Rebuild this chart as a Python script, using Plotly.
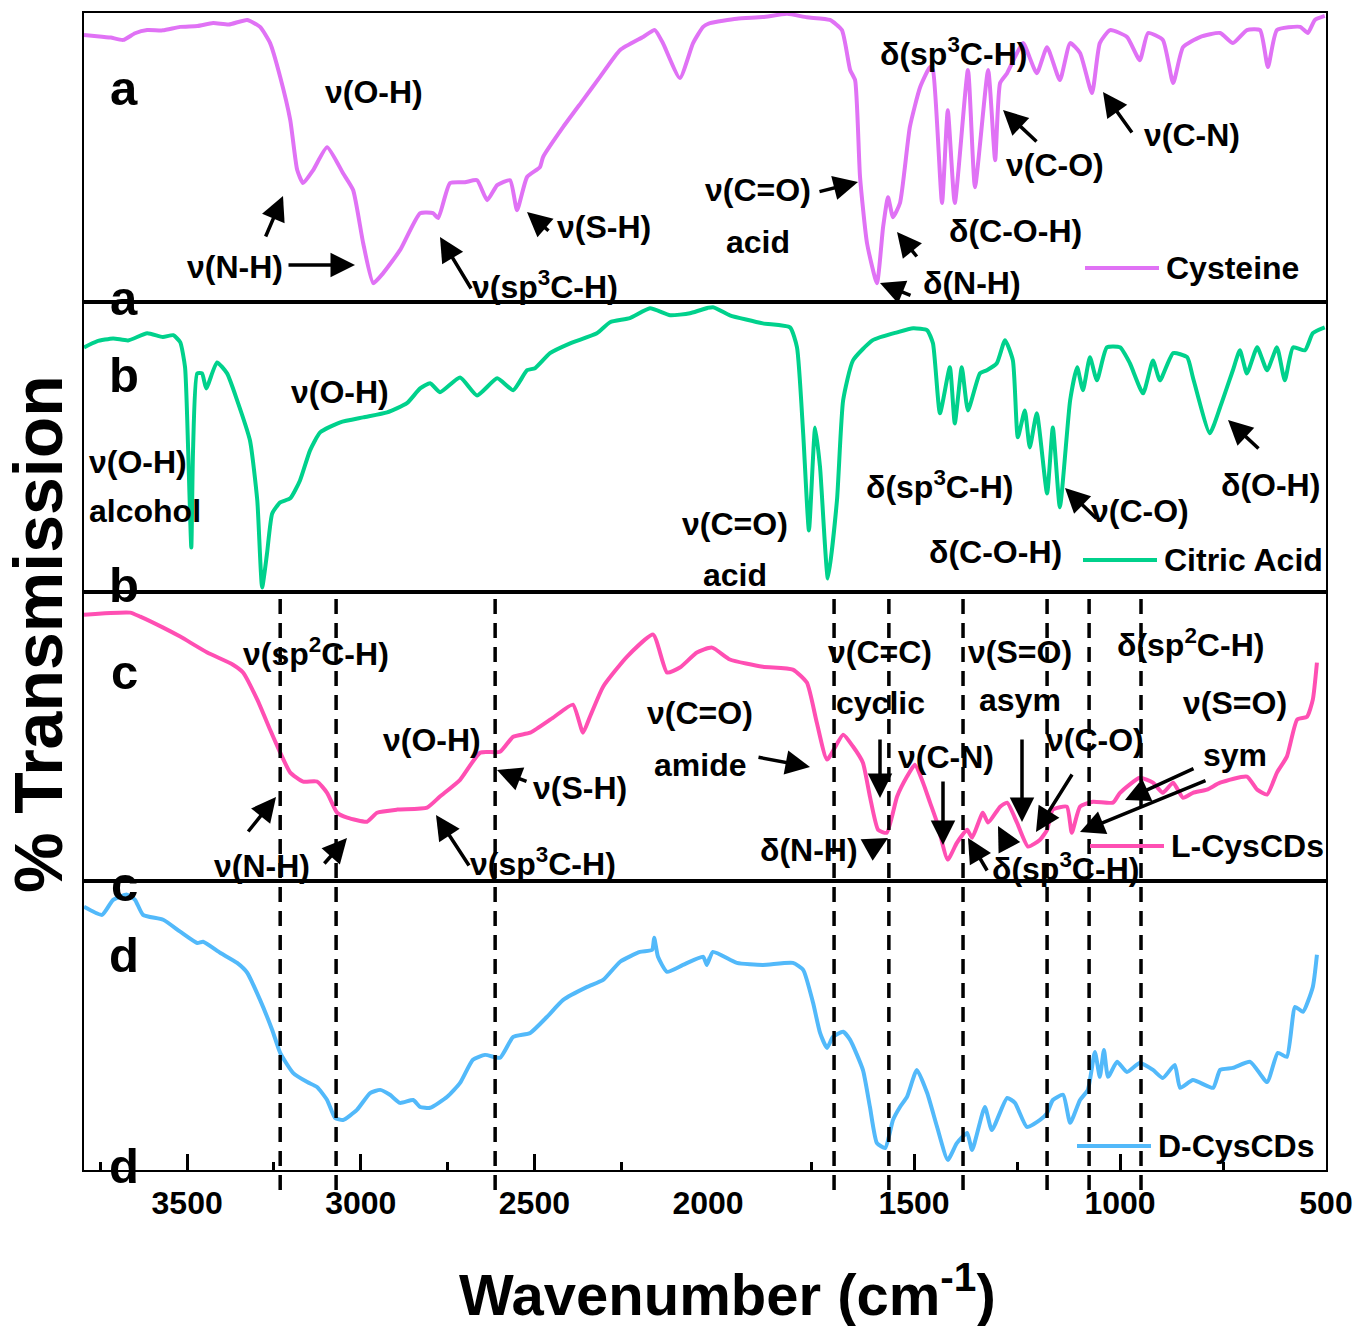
import plotly.graph_objects as go
from plotly.subplots import make_subplots

# ---------------- data (wavenumber in cm-1, relative transmission 0-100 within each panel) -------------
cys_wn = [3797,3760,3720,3684,3650,3615,3570,3520,3470,3425,3380,3327,3290,3261,3232,3203,3183,3166,3137,3097,
          3051,3022,2993,2964,2936,2887,2829,2792,2777,2743,2700,2665,2636,2607,2570,2550,2521,2484,2475,2417,
          2360,2311,2253,2187,2153,2130,2081,2043,2014,1995,1930,1867,1808,1760,1704,1675,1655,1643,1631,1614,
          1590,1575,1563,1551,1534,1510,1485,1461,1454,1432,1418,1401,1369,1352,1320,1303,1291,1274,1250,1235,
          1202,1177,1146,1121,1097,1068,1049,1024,983,952,932,896,871,847,806,757,726,692,660,641,
          619,563,544,527,503]
cys_T = [92.4,92.0,91.5,90.7,93.0,94.1,94.0,95.2,95.5,96.5,96.0,97.6,95.2,89.6,77.9,63.0,45.7,41.2,45.7,53.6,
         44.6,38.8,20.4,6.6,10.0,18.0,30.8,30.8,29.1,41.2,41.5,42.2,35.3,40.5,42.2,31.8,43.3,46.7,50.2,60.6,
         69.9,77.9,87.2,91.7,94.1,89.6,77.5,89.6,95.2,96.5,98.0,98.6,99.7,98.5,97.6,94.1,80.3,76.8,43.3,20.4,
         6.6,26.0,36.3,29.4,34.3,60.6,74.4,81.3,80.3,34.3,66.4,34.3,80.3,39.8,80.3,49.1,75.8,79.2,86.2,89.6,
         79.2,88.2,76.8,89.6,86.2,72.3,89.6,94.1,91.7,83.7,93.1,90.7,75.8,88.2,91.7,93.1,89.6,94.1,94.1,81.3,
         94.1,95.2,93.1,97.6,99.0]

cit_wn = [3797,3760,3713,3670,3615,3570,3540,3520,3506,3497,3488,3483,3471,3457,3445,3414,3385,3356,3319,3298,
          3284,3270,3255,3232,3203,3175,3146,3117,3059,2993,2924,2867,2829,2800,2772,2714,2665,2607,2561,2521,
          2498,2455,2397,2320,2282,2225,2167,2109,2052,1988,1947,1867,1801,1784,1769,1755,1740,1728,1709,1687,
          1672,1648,1600,1541,1502,1468,1454,1437,1413,1401,1384,1369,1340,1323,1299,1279,1260,1248,1231,1219,
          1202,1177,1163,1146,1121,1104,1090,1073,1056,1032,1000,976,944,920,903,871,837,823,782,757,
          726,709,692,667,643,619,600,580,551,532,503]
cit_T = [84.4,86.5,87.5,86.8,89.3,88.0,88.6,86.2,77.5,48.8,15.2,48.8,75.4,75.4,70.2,79.2,75.4,66.1,52.2,31.5,
         1.4,13.1,27.0,30.8,32.2,38.4,48.8,55.0,58.5,60.2,61.9,65.1,70.2,72.0,68.9,74.0,67.8,73.7,69.6,76.5,
         77.2,82.4,85.8,89.3,93.1,94.5,97.9,95.5,96.2,98.3,95.5,92.7,91.3,84.4,54.7,21.1,56.7,42.9,4.5,31.5,
         66.1,79.9,86.9,89.6,91.0,90.3,85.8,61.6,77.5,58.1,77.5,62.6,75.4,76.5,78.9,86.9,79.9,53.3,62.6,49.8,
         61.6,33.9,56.7,29.1,66.1,77.5,69.6,81.0,73.0,84.4,84.4,78.9,68.5,79.9,73.0,82.4,81.0,74.0,54.7,63.7,
         76.5,83.4,75.4,84.4,76.5,84.4,73.0,84.4,83.4,89.3,91.3]

lcys_wn = [3797,3664,3635,3569,3520,3442,3368,3339,3298,3261,3232,3203,3166,3126,3097,3068,3039,2982,2953,2895,
           2809,2772,2714,2656,2599,2561,2512,2446,2389,2360,2340,2302,2233,2158,2118,2081,2032,1990,1947,1867,
           1794,1760,1736,1711,1672,1648,1624,1607,1587,1566,1541,1517,1498,1478,1461,1444,1418,1396,1371,1359,
           1333,1320,1291,1274,1250,1223,1194,1177,1163,1129,1117,1097,1066,1017,1000,952,920,896,871,847,
           823,789,757,692,667,643,619,595,570,546,532,522]
lcys_T = [92.0,92.7,91.3,87.5,84.4,78.9,74.7,72.0,62.6,52.2,44.3,37.4,34.3,34.3,30.4,23.5,21.8,20.4,23.5,24.6,
          25.3,29.1,34.9,44.3,44.6,49.8,51.2,56.4,60.9,51.2,56.7,67.1,77.5,85.1,72.0,73.7,78.9,80.6,76.5,74.0,
          73.0,68.5,54.7,41.9,50.5,46.4,40.8,29.1,17.6,16.6,29.1,36.0,40.1,33.9,27.0,20.1,7.3,13.1,17.6,14.9,
          23.5,20.1,25.6,27.0,20.1,11.8,14.2,17.6,24.6,25.6,16.6,25.6,27.3,27.0,30.4,35.6,33.9,30.4,33.9,28.7,
          30.4,31.5,33.9,36.0,31.5,29.8,37.4,42.9,55.7,56.7,62.6,75.4]

dcys_wn = [3797,3745,3713,3673,3650,3627,3569,3520,3471,3454,3405,3356,3327,3290,3255,3232,3195,3154,3126,3097,
           3074,3051,3011,2973,2944,2916,2887,2849,2829,2800,2751,2714,2677,2642,2599,2561,2512,2464,2417,2348,
           2302,2253,2196,2161,2155,2144,2118,2072,2014,2003,1988,1930,1867,1794,1769,1745,1728,1711,1697,1672,
           1655,1624,1607,1590,1570,1551,1534,1517,1493,1468,1444,1418,1396,1371,1359,1328,1311,1274,1255,1226,
           1194,1177,1163,1138,1121,1097,1078,1061,1049,1039,1029,1007,983,952,920,896,867,854,823,774,
           757,726,684,643,617,595,575,556,532,522]
dcys_T = [91.0,88.2,93.4,95.2,93.4,88.2,86.5,82.4,78.5,78.9,75.1,71.6,68.2,58.8,48.4,40.5,33.6,30.4,28.7,24.2,
          18.0,17.3,20.8,26.6,27.7,26.0,23.2,24.2,21.8,21.5,25.3,30.1,38.1,39.8,38.8,46.0,47.4,52.9,58.8,63.3,
          65.7,72.0,75.4,76.1,80.3,73.7,68.5,70.9,73.7,70.9,75.4,71.6,70.9,71.6,69.2,57.8,47.4,42.2,46.0,47.8,
          45.0,34.6,21.8,9.3,7.6,17.3,21.8,25.3,34.6,26.6,14.9,3.5,9.3,12.8,6.9,21.8,13.8,24.9,23.2,14.9,
          17.3,19.7,24.2,26.0,16.3,24.2,27.7,40.8,32.2,41.5,32.2,37.4,33.9,37.0,34.6,31.8,36.3,28.4,31.1,28.4,
          34.6,35.3,37.4,30.4,40.5,39.1,56.4,54.7,63.3,74.4]

series_names = ["Cysteine", "Citric Acid", "L-CysCDs", "D-CysCDs"]
series_colors = ["#E072F5", "#00D18C", "#FF4FB3", "#52B9FA"]
series_x = [cys_wn, cit_wn, lcys_wn, dcys_wn]
series_y = [cys_T, cit_T, lcys_T, dcys_T]
panel_letters = ["a", "b", "c", "d"]

dashed_left = [3232, 3071, 2613]
dashed_right = [1694, 1561, 1381, 1177, 1075, 949]

left_ticks = [3500, 3000, 2500]
right_ticks = [2000, 1500, 1000, 500]
left_minor = [3750, 3250, 2750, 2250]
right_minor = [1750, 1250, 750]

# ---------------- figure -------------
W, H = 1357, 1326
ML, MR, MT, MB = 84, 31, 13, 156
FONT = "Liberation Sans, Arial, sans-serif"
FS = 32
FRAME = 2

fig = make_subplots(rows=4, cols=2, horizontal_spacing=0, vertical_spacing=0,
                    column_widths=[624, 618])

for r in range(4):
    for c in range(2):
        fig.add_trace(go.Scatter(x=series_x[r], y=series_y[r], mode="lines",
                                 line=dict(color=series_colors[r], width=4, shape="spline", smoothing=0.5),
                                 name=series_names[r], showlegend=False, hoverinfo="skip"),
                      row=r + 1, col=c + 1)

fig.update_layout(width=W, height=H, margin=dict(l=ML, r=MR, t=MT, b=MB, autoexpand=False),
                  plot_bgcolor="white", paper_bgcolor="white", showlegend=False)

for r in range(4):
    for c in range(2):
        idx = r * 2 + c + 1
        xa = "xaxis" if idx == 1 else f"xaxis{idx}"
        ya = "yaxis" if idx == 1 else f"yaxis{idx}"
        bottom = (r == 3)
        xcfg = dict(range=[3797, 2000] if c == 0 else [2000, 500], automargin=False,
                    showline=True, mirror=True, linecolor="black", linewidth=FRAME,
                    showgrid=False, zeroline=False)
        if bottom:
            tv = left_ticks if c == 0 else right_ticks
            xcfg.update(tickmode="array", tickvals=tv,
                        ticktext=[f"<b>{v}</b>" for v in tv],
                        ticks="inside", ticklen=16, tickwidth=2.5, tickcolor="black",
                        tickfont=dict(family=FONT, size=FS, color="black"),
                        ticklabelstandoff=4,
                        minor=dict(tickmode="array", tickvals=left_minor if c == 0 else right_minor,
                                   ticks="inside", ticklen=8, tickwidth=2.5, tickcolor="black"))
        else:
            xcfg.update(showticklabels=False, ticks="")
        fig.layout[xa].update(xcfg)
        ycfg = dict(range=[0, 100], showgrid=False, zeroline=False, showticklabels=False, automargin=False,
                    ticks="", showline=True, linecolor="black", linewidth=FRAME)
        if c == 1:
            ycfg.update(side="right")
        fig.layout[ya].update(ycfg)

# ---------------- helpers for layout decorations -------------
PW, PH = W - ML - MR, H - MT - MB


def P(px, py):
    return (px - ML) / PW, (H - MB - py) / PH


def txt(s, px, py, size=FS, xanchor="center", angle=0):
    x, y = P(px, py)
    fig.add_annotation(x=x, y=y, xref="paper", yref="paper", text=f"<b>{s}</b>",
                       showarrow=False, xanchor=xanchor, yanchor="middle", textangle=angle,
                       font=dict(family=FONT, size=size, color="black"))


def arrow(tx, ty, hx, hy):
    x, y = P(hx, hy)
    fig.add_annotation(x=x, y=y, xref="paper", yref="paper", ax=tx - hx, ay=ty - hy,
                       text="", showarrow=True, arrowhead=2, arrowsize=1.4,
                       arrowwidth=3.5, arrowcolor="black")


# dashed guide lines (c and d panels)
y0p = P(0, 1190)[1]
y1p = P(0, 591)[1]
for v in dashed_left:
    fig.add_shape(type="line", xref="x7", yref="paper", x0=v, x1=v, y0=y0p, y1=y1p,
                  line=dict(color="black", width=3.5, dash="15px,9px"))
for v in dashed_right:
    fig.add_shape(type="line", xref="x8", yref="paper", x0=v, x1=v, y0=y0p, y1=y1p,
                  line=dict(color="black", width=3.5, dash="15px,9px"))

# panel letters
letter_pos = [(88, 298), (375, 585), (672, 884), (955, 1166)]
for L, (ytop, ybot) in zip(panel_letters, letter_pos):
    txt(L, 124, ytop, size=49)
    txt(L, 124, ybot, size=49)

# legends (one per panel)
leg_y = [268, 560, 846, 1146]
leg_x0 = [1085, 1083, 1090, 1077]
for name, col, yy, x0 in zip(series_names, series_colors, leg_y, leg_x0):
    a0 = P(x0, yy)
    a1 = P(x0 + 74, yy)
    fig.add_shape(type="line", xref="paper", yref="paper", x0=a0[0], x1=a1[0], y0=a0[1], y1=a1[1],
                  line=dict(color=col, width=4))
    txt(name, x0 + 79, yy, xanchor="left")

# ---- panel a annotations
txt("ν(O-H)", 374, 92)
txt("ν(N-H)", 235, 267)
arrow(287, 265, 355, 265)
arrow(265, 238, 283, 196)
txt("ν(sp<sup>3</sup>C-H)", 545, 285)
arrow(472, 290, 440, 237)
txt("ν(S-H)", 604, 227)
arrow(550, 232, 527, 212)
txt("ν(C=O)", 758, 190)
txt("acid", 758, 242)
arrow(818, 192, 858, 182)
txt("δ(N-H)", 972, 283)
arrow(912, 296, 880, 283)
arrow(918, 258, 897, 232)
txt("δ(C-O-H)", 1015, 231)
txt("ν(C-O)", 1055, 165)
arrow(1038, 143, 1003, 110)
txt("ν(C-N)", 1192, 135)
arrow(1133, 134, 1103, 92)
txt("δ(sp<sup>3</sup>C-H)", 953, 52)

# ---- panel b annotations
txt("ν(O-H)", 340, 392)
txt("ν(O-H)", 87, 462, xanchor="left")
txt("alcohol", 87, 511, xanchor="left")
txt("ν(C=O)", 735, 524)
txt("acid", 735, 575)
txt("δ(sp<sup>3</sup>C-H)", 940, 485)
txt("δ(C-O-H)", 995, 552)
txt("ν(C-O)", 1140, 511)
arrow(1098, 520, 1065, 488)
txt("δ(O-H)", 1270, 485)
arrow(1260, 450, 1228, 420)

# ---- panel c annotations
txt("ν(sp<sup>2</sup>C-H)", 316, 652)
txt("ν(O-H)", 432, 740)
txt("ν(N-H)", 262, 866)
arrow(247, 833, 276, 797)
arrow(323, 865, 347, 838)
txt("ν(sp<sup>3</sup>C-H)", 543, 862)
arrow(470, 867, 436, 815)
txt("ν(S-H)", 580, 788)
arrow(528, 782, 497, 770)
txt("ν(C=O)", 700, 713)
txt("amide", 700, 765)
arrow(757, 757, 810, 767)
txt("ν(C=C)", 880, 652)
txt("cyclic", 880, 703)
arrow(880, 738, 880, 798)
txt("δ(N-H)", 809, 850)
arrow(872, 847, 888, 838)
txt("ν(C-N)", 946, 757)
arrow(943, 780, 943, 845)
txt("ν(S=O)", 1020, 652)
txt("asym", 1020, 700)
arrow(1022, 738, 1022, 822)
txt("ν(C-O)", 1095, 740)
arrow(1073, 773, 1036, 832)
txt("δ(sp<sup>3</sup>C-H)", 1065, 867)
arrow(988, 872, 968, 838)
arrow(1008, 845, 998, 826)
txt("δ(sp<sup>2</sup>C-H)", 1190, 643)
txt("ν(S=O)", 1235, 703)
txt("sym", 1235, 755)
arrow(1195, 768, 1125, 800)
arrow(1207, 780, 1080, 832)

# axis titles
txt("Wavenumber (cm<sup>-1</sup>)", 727, 1290, size=58)
txt("% Transmission", 38, 634, size=68, angle=-90)

fig.write_html("out.html")
